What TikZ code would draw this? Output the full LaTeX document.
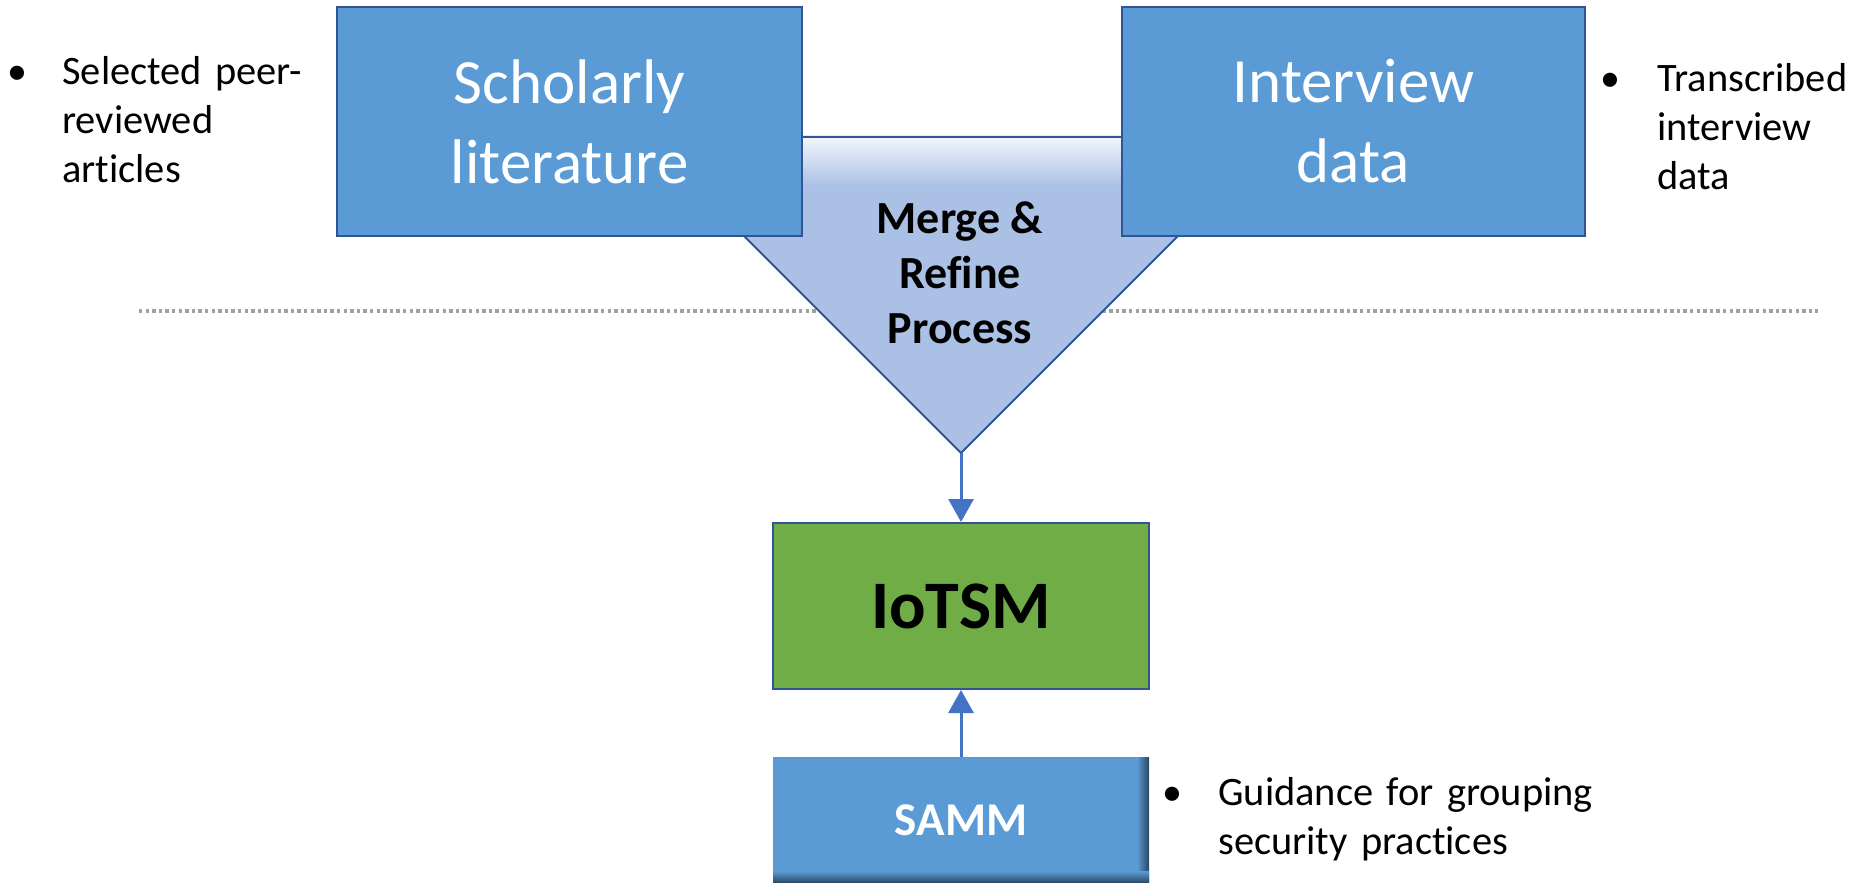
\documentclass[tikz,border=0pt]{standalone}
\usepackage{fontspec}
\setmainfont{Carlito}[Ligatures=CommonOff]
\newfontfamily\notefont{Carlito}[WordSpace=0.85,Ligatures=CommonOff]
\usetikzlibrary{arrows.meta}
\definecolor{boxblue}{HTML}{5B9BD5}
\definecolor{edgeblue}{HTML}{2F5597}
\definecolor{iotgreen}{HTML}{70AD47}
\definecolor{trifill}{RGB}{171,192,229}
\definecolor{arrowblue}{HTML}{4472C4}
\definecolor{dotgray}{HTML}{A0A0A0}
\begin{document}
\begin{tikzpicture}[x=0.5pt,y=-0.5pt,
  srcbox/.style={draw=edgeblue, line width=1pt, fill=boxblue, text=white, align=center,
    inner sep=0pt, minimum height=114.5pt, font=\fontsize{31.5pt}{40pt}\selectfont},
  iotbox/.style={draw=edgeblue, line width=1pt, fill=iotgreen, inner sep=0pt,
    minimum width=188pt, minimum height=83pt, font=\fontsize{34pt}{40pt}\selectfont\bfseries},
  sammbox/.style={fill=boxblue, text=white, inner sep=0pt,
    minimum width=188pt, minimum height=63pt, font=\fontsize{23.5pt}{28pt}\selectfont\bfseries},
  proc/.style={align=center, inner sep=0pt, font=\fontsize{23pt}{27.5pt}\selectfont\bfseries},
  bulletdot/.style={anchor=base, inner sep=0pt, font=\fontsize{20pt}{24.5pt}\selectfont},
  note/.style={anchor=base west, inner sep=0pt, align=left, text width=#1,
    font=\notefont\fontsize{20.2pt}{24.5pt}\selectfont},
  flow/.style={draw=arrowblue, line width=1.5pt, -{Triangle[width=12.5pt,length=11.5pt]}},
  divider/.style={draw=dotgray, line width=1.6pt, dash pattern=on 1.7pt off 1.6pt}
]
\useasboundingbox (0,0) rectangle (1863,883);

% divider
\coordinate (dl) at (139,311);
\coordinate (dr) at (1818,311);
\path[divider] (dl) -- (dr);

% merge triangle
\coordinate (tl) at (645,137);
\coordinate (tr) at (1277,137);
\coordinate (apex) at (961,453);
\fill[trifill] (tl) -- (tr) -- (apex) -- cycle;
\shade[top color=white!85!trifill, bottom color=trifill]
  (645,137) -- (1277,137) -- (1229,186) -- (693,186) -- cycle;
\draw[edgeblue, line width=1pt, line join=miter] (tl) -- (tr) -- (apex) -- cycle;
\node[proc] (merge) at (960,273) {Merge \&\\Refine\\Process};

% source boxes
\node[srcbox, minimum width=232.5pt] (sch) at (569.5,121.5) {Scholarly\\literature};
\node[srcbox, minimum width=231.5pt] (int) at (1353.5,121.5) {Interview\\data};

% IoTSM and SAMM
\node[iotbox] (iot) at (961,606) {IoTSM};
\node[sammbox] (samm) at (961,820) {SAMM};
\shade[left color=boxblue, right color=boxblue!45!black] (1137,757) rectangle (1149,883);
\shade[top color=boxblue, bottom color=boxblue!45!black] (773,871) rectangle (1149,883);

\draw[flow] (apex) -- (iot.north);
\draw[flow] (samm.north) -- (iot.south);

% notes
\node[bulletdot] (b1) at (17,85) {•};
\node[note=135pt] (n1) at (62,85) {Selected peer-\\reviewed\\articles};
\node[bulletdot] (b2) at (1610,92) {•};
\node[note=110pt] (n2) at (1657,92) {Transcribed\\interview\\data};
\node[bulletdot] (b3) at (1172,805) {•};
\node[note=210pt] (n3) at (1218,805) {Guidance for grouping\\security practices};
\end{tikzpicture}
\end{document}
